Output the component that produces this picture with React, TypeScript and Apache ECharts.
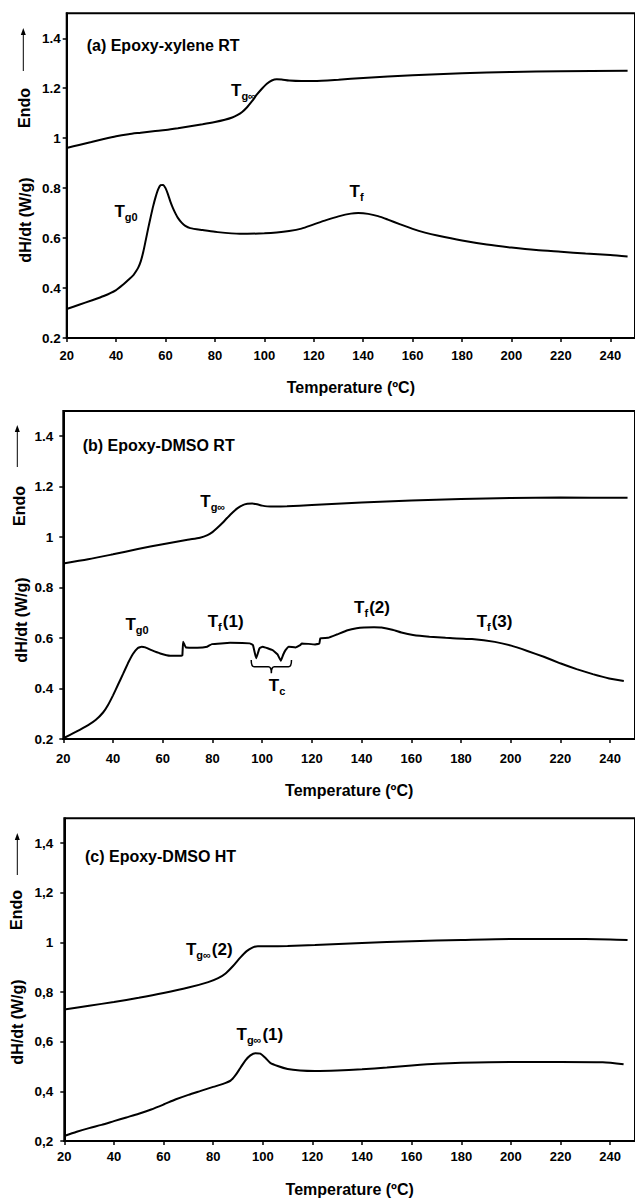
import React, { useEffect, useRef } from "react";
import * as echarts from "echarts";

// ---------- DATA ----------
const xTicks = { min: 20, max: 250, interval: 20 };
const yTicks = { min: 0.2, max: 1.5, interval: 0.2 };

// (a) Epoxy-xylene RT
const aEndoT = [20, 25, 30, 35, 40, 45, 50, 55, 60, 65, 70, 75, 80, 84, 87, 89, 91, 93, 95, 97, 99, 101, 103, 105, 107, 110, 115, 120, 130, 140, 160, 180, 200, 220, 247];
const aEndoV = [0.961, 0.973, 0.985, 0.997, 1.008, 1.016, 1.022, 1.028, 1.033, 1.04, 1.048, 1.056, 1.065, 1.074, 1.083, 1.092, 1.105, 1.124, 1.148, 1.175, 1.198, 1.218, 1.231, 1.236, 1.235, 1.231, 1.229, 1.229, 1.234, 1.241, 1.252, 1.26, 1.265, 1.268, 1.27];
const aDscT = [20, 25, 30, 35, 40, 43, 45, 47, 48, 49, 50, 51, 52, 53, 54, 55, 56, 57, 58, 59, 60, 61, 62, 63, 64, 65, 66.5, 68, 70, 75, 80, 90, 100, 105, 110, 115, 120, 125, 130, 135, 138, 142, 146, 150, 155, 160, 165, 170, 180, 190, 200, 210, 220, 230, 240, 247];
const aDscV = [0.316, 0.333, 0.35, 0.368, 0.392, 0.415, 0.433, 0.452, 0.466, 0.483, 0.508, 0.545, 0.592, 0.64, 0.685, 0.728, 0.765, 0.795, 0.812, 0.813, 0.8, 0.775, 0.745, 0.72, 0.699, 0.681, 0.662, 0.649, 0.64, 0.632, 0.625, 0.617, 0.619, 0.622, 0.628, 0.638, 0.655, 0.672, 0.687, 0.698, 0.7, 0.697, 0.688, 0.674, 0.655, 0.637, 0.622, 0.61, 0.59, 0.574, 0.562, 0.552, 0.545, 0.538, 0.532, 0.526];

// (b) Epoxy-DMSO RT
const bEndoT = [20, 30, 40, 50, 60, 70, 75, 78, 80, 82, 84, 86, 88, 90, 92, 94, 96, 98, 100, 102, 105, 110, 120, 140, 160, 180, 200, 220, 247];
const bEndoV = [0.896, 0.912, 0.932, 0.953, 0.972, 0.99, 0.998, 1.008, 1.02, 1.037, 1.056, 1.077, 1.097, 1.114, 1.126, 1.132, 1.133, 1.13, 1.125, 1.122, 1.121, 1.122, 1.127, 1.137, 1.145, 1.151, 1.155, 1.157, 1.156];
const bDscT = [20, 25, 30, 33, 36, 38, 40, 42, 44, 46, 48, 50, 51.5, 53, 55.5, 59, 63, 67.5, 67.9, 68.2, 68.7, 69.3, 73.9, 77.9, 79.8, 87.1, 95, 96.3, 97.6, 98.9, 100.2, 104.2, 106.2, 107.5, 108.5, 109.4, 110.7, 113.4, 115.3, 116, 121.3, 123, 123.4, 126.5, 130, 134.4, 138, 141, 145, 148, 152.8, 156, 160.7, 167.3, 173.8, 184.4, 193.6, 200.2, 206.7, 213.3, 219.9, 226.5, 233, 239.6, 245.5];
const bDscV = [0.203, 0.228, 0.255, 0.275, 0.305, 0.335, 0.373, 0.415, 0.457, 0.5, 0.537, 0.561, 0.566, 0.563, 0.552, 0.539, 0.53, 0.53, 0.531, 0.585, 0.575, 0.563, 0.562, 0.566, 0.576, 0.581, 0.579, 0.572, 0.52, 0.559, 0.566, 0.552, 0.535, 0.51, 0.535, 0.552, 0.566, 0.563, 0.572, 0.579, 0.575, 0.578, 0.599, 0.601, 0.614, 0.631, 0.639, 0.642, 0.643, 0.642, 0.632, 0.622, 0.612, 0.605, 0.601, 0.596, 0.585, 0.57, 0.549, 0.526, 0.5, 0.477, 0.457, 0.44, 0.43];

// (c) Epoxy-DMSO HT
const cEndoT = [20, 30, 40, 50, 60, 70, 78, 82, 85, 88, 91, 93.5, 96, 98, 102, 110, 121, 140, 160, 180, 200, 220, 240, 247];
const cEndoV = [0.73, 0.745, 0.76, 0.777, 0.796, 0.818, 0.84, 0.856, 0.875, 0.905, 0.94, 0.965, 0.98, 0.985, 0.985, 0.986, 0.99, 0.998, 1.005, 1.01, 1.014, 1.014, 1.012, 1.01];
const cDscT = [20, 25, 30, 35, 40, 45, 50, 55, 60, 65, 70, 75, 80, 84, 87, 89, 91, 93, 95, 97, 99, 101, 103, 106, 110, 115, 121, 130, 140, 150, 160, 170, 180, 200, 220, 237, 245.4];
const cDscV = [0.22, 0.237, 0.252, 0.265, 0.28, 0.295, 0.31, 0.327, 0.347, 0.368, 0.386, 0.402, 0.418, 0.43, 0.443, 0.465, 0.495, 0.525, 0.545, 0.554, 0.552, 0.535, 0.515, 0.502, 0.49, 0.484, 0.482, 0.484, 0.489, 0.496, 0.504, 0.511, 0.515, 0.518, 0.518, 0.517, 0.509];

const panelTitles = ["(a) Epoxy-xylene RT", "(b) Epoxy-DMSO RT", "(c) Epoxy-DMSO HT"];
const xAxisName = "Temperature (ºC)";
const yAxisName = "dH/dt (W/g)";
const endoLabel = "Endo";

// annotation labels: panel, T, value, subscript, trailing text
const annPanel = [0, 0, 0, 1, 1, 1, 1, 1, 1, 2, 2];
const annT = [86.5, 39.3, 134.5, 75.1, 45, 78.1, 102.7, 137, 186.3, 69, 89.4];
const annV = [1.192, 0.705, 0.785, 1.14, 0.654, 0.665, 0.414, 0.72, 0.665, 0.971, 0.629];
const annSub = ["g∞", "g0", "f", "g∞", "g0", "f", "c", "f", "f", "g∞", "g∞"];
const annTail = ["", "", "", "", "", "(1)", "", "(2)", "(3)", "(2)", "(1)"];

// brace under Tc in panel b: [T start, T end, top value, middle value, tip value]
const braceB = [[95.6, 111.8, 0.513, 0.486, 0.461]];

const FONT = "'Liberation Sans', Arial, sans-serif";

export default function App() {
  const ref = useRef<HTMLDivElement>(null);
  useEffect(() => {
    if (!ref.current) return;
    const chart = echarts.init(ref.current, null, { renderer: "svg" });

    const grids = [
      { left: 66.7, top: 13.3, width: 575, height: 324.7 },
      { left: 63.3, top: 411, width: 583.1, height: 328 },
      { left: 64.3, top: 818.3, width: 582.4, height: 323.4 },
    ];
    const xLabelMargin = [11, 13, 9];
    const xNameGap = [41, 43, 40];
    const yLabelMargin = [6, 10, 11];

    const zip = (t: number[], v: number[]) => t.map((x, i) => [x, v[i]]);
    const fmtY = (comma: boolean) => (val: number) => {
      if (Math.abs(val - 1.5) < 1e-6) return "";
      const s = String(+val.toFixed(1));
      return comma ? s.replace(".", ",") : s;
    };

    const xAxes = grids.map((_, i) => ({
      gridIndex: i,
      type: "value",
      min: xTicks.min,
      max: xTicks.max,
      interval: xTicks.interval,
      name: xAxisName,
      nameLocation: "middle",
      nameGap: xNameGap[i],
      nameTextStyle: { fontFamily: FONT, fontSize: 16, fontWeight: "bold", color: "#000" },
      axisLine: { lineStyle: { color: "#000", width: 2 } },
      axisTick: { show: true, length: 4, lineStyle: { color: "#000", width: 1.5 } },
      axisLabel: { margin: xLabelMargin[i], fontFamily: FONT, fontSize: 13, fontWeight: "bold", color: "#000", showMaxLabel: false },
      splitLine: { show: false },
    }));
    const yAxes = grids.map((_, i) => ({
      gridIndex: i,
      type: "value",
      min: yTicks.min,
      max: yTicks.max,
      interval: yTicks.interval,
      axisLine: { show: true, lineStyle: { color: "#000", width: 2 } },
      axisTick: { show: true, length: 4, lineStyle: { color: "#000", width: 1.5 } },
      axisLabel: { margin: yLabelMargin[i], fontFamily: FONT, fontSize: 13.5, fontWeight: "bold", color: "#000", formatter: fmtY(i === 2), showMaxLabel: false },
      splitLine: { show: false },
    }));

    const lineSeries = (data: number[][], idx: number, smooth: number) => ({
      type: "line",
      xAxisIndex: idx,
      yAxisIndex: idx,
      data,
      symbol: "none",
      smooth,
      lineStyle: { color: "#000", width: 2 },
    });

    const series: any[] = [
      lineSeries(zip(aEndoT, aEndoV), 0, 0.25),
      lineSeries(zip(aDscT, aDscV), 0, 0.25),
      lineSeries(zip(bEndoT, bEndoV), 1, 0.25),
      lineSeries(zip(bDscT, bDscV), 1, 0.1),
      lineSeries(zip(cEndoT, cEndoV), 2, 0.25),
      lineSeries(zip(cDscT, cDscV), 2, 0.25),
      {
        type: "custom",
        xAxisIndex: 1,
        yAxisIndex: 1,
        data: braceB,
        encode: { x: [0, 1], y: [2, 3, 4] },
        renderItem: (params: any, api: any) => {
          const x1 = api.value(0), x2 = api.value(1);
          const yt = api.value(2), ym = api.value(3), yp = api.value(4);
          const xm = (x1 + x2) / 2;
          const pA = api.coord([x1, yt]);
          const pB = api.coord([x2, yt]);
          const pM = api.coord([xm, ym]);
          const pT = api.coord([xm, yp]);
          const yMid = pM[1];
          const r = 3;
          const d = `M${pA[0]},${pA[1]} Q${pA[0]},${yMid} ${pA[0] + r},${yMid} L${pM[0] - r},${yMid} Q${pM[0]},${yMid} ${pT[0]},${pT[1]} Q${pM[0]},${yMid} ${pM[0] + r},${yMid} L${pB[0] - r},${yMid} Q${pB[0]},${yMid} ${pB[0]},${pB[1]}`;
          return {
            type: "path",
            shape: { pathData: d },
            style: { fill: "none", stroke: "#000", lineWidth: 1.5 },
          };
        },
      },
    ];

    chart.setOption({
      animation: false,
      backgroundColor: "#fff",
      grid: grids.map((g) => ({ ...g, show: true, borderColor: "#000", borderWidth: 2, backgroundColor: "transparent" })),
      xAxis: xAxes,
      yAxis: yAxes,
      series,
    });

    // fixed decorations outside plot areas
    const titlePos = [[86.7, 45], [82.7, 445.7], [85, 856.7]];
    const arrowX = [23.3, 17.3, 17.3];
    const arrowY = [[28, 71], [425, 467], [833, 875]];
    const endoPos = [[24, 108], [19, 506], [16, 910]];
    const dhPos = [[25, 220], [21, 620], [17, 1022]];

    const graphics: any[] = [];
    for (let i = 0; i < 3; i++) {
      graphics.push({
        type: "text",
        x: titlePos[i][0],
        y: titlePos[i][1],
        style: { text: panelTitles[i], fontFamily: FONT, fontSize: 16, fontWeight: "bold", fill: "#000", verticalAlign: "middle" },
      });
      graphics.push({
        type: "line",
        shape: { x1: arrowX[i], y1: arrowY[i][1], x2: arrowX[i], y2: arrowY[i][0] + 5 },
        style: { stroke: "#000", lineWidth: 1 },
      });
      graphics.push({
        type: "polygon",
        shape: { points: [[arrowX[i], arrowY[i][0]], [arrowX[i] - 2.5, arrowY[i][0] + 7], [arrowX[i] + 2.5, arrowY[i][0] + 7]] },
        style: { fill: "#000" },
      });
      graphics.push({
        type: "text",
        x: endoPos[i][0],
        y: endoPos[i][1],
        rotation: Math.PI / 2,
        style: { text: endoLabel, fontFamily: FONT, fontSize: 16, fontWeight: "bold", fill: "#000", align: "center", verticalAlign: "middle" },
      });
      graphics.push({
        type: "text",
        x: dhPos[i][0],
        y: dhPos[i][1],
        rotation: Math.PI / 2,
        style: { text: yAxisName, fontFamily: FONT, fontSize: 16, fontWeight: "bold", fill: "#000", align: "center", verticalAlign: "middle" },
      });
    }

    // annotation labels positioned from data coordinates
    for (let k = 0; k < annT.length; k++) {
      const p = chart.convertToPixel({ gridIndex: annPanel[k] } as any, [annT[k], annV[k]]) as number[];
      const text = `{t|T}{s|${annSub[k]}}` + (annTail[k] ? `{p|${annTail[k]}}` : "");
      graphics.push({
        type: "text",
        x: p[0],
        y: p[1],
        style: {
          text,
          fill: "#000",
          verticalAlign: "middle",
          align: "left",
          rich: {
            t: { fontFamily: FONT, fontSize: 17, fontWeight: "bold", lineHeight: 22, verticalAlign: "middle", fill: "#000" },
            s: { fontFamily: FONT, fontSize: 11, fontWeight: "bold", lineHeight: 11, verticalAlign: "bottom", fill: "#000", padding: [0, 1, 0, 0] },
            p: { fontFamily: FONT, fontSize: 17, fontWeight: "bold", lineHeight: 22, verticalAlign: "middle", fill: "#000" },
          },
        },
      });
    }

    chart.setOption({ graphic: graphics });

    return () => chart.dispose();
  }, []);

  return <div ref={ref} style={{ position: "absolute", left: 0, top: 0, width: 635, height: 1198 }} />;
}
